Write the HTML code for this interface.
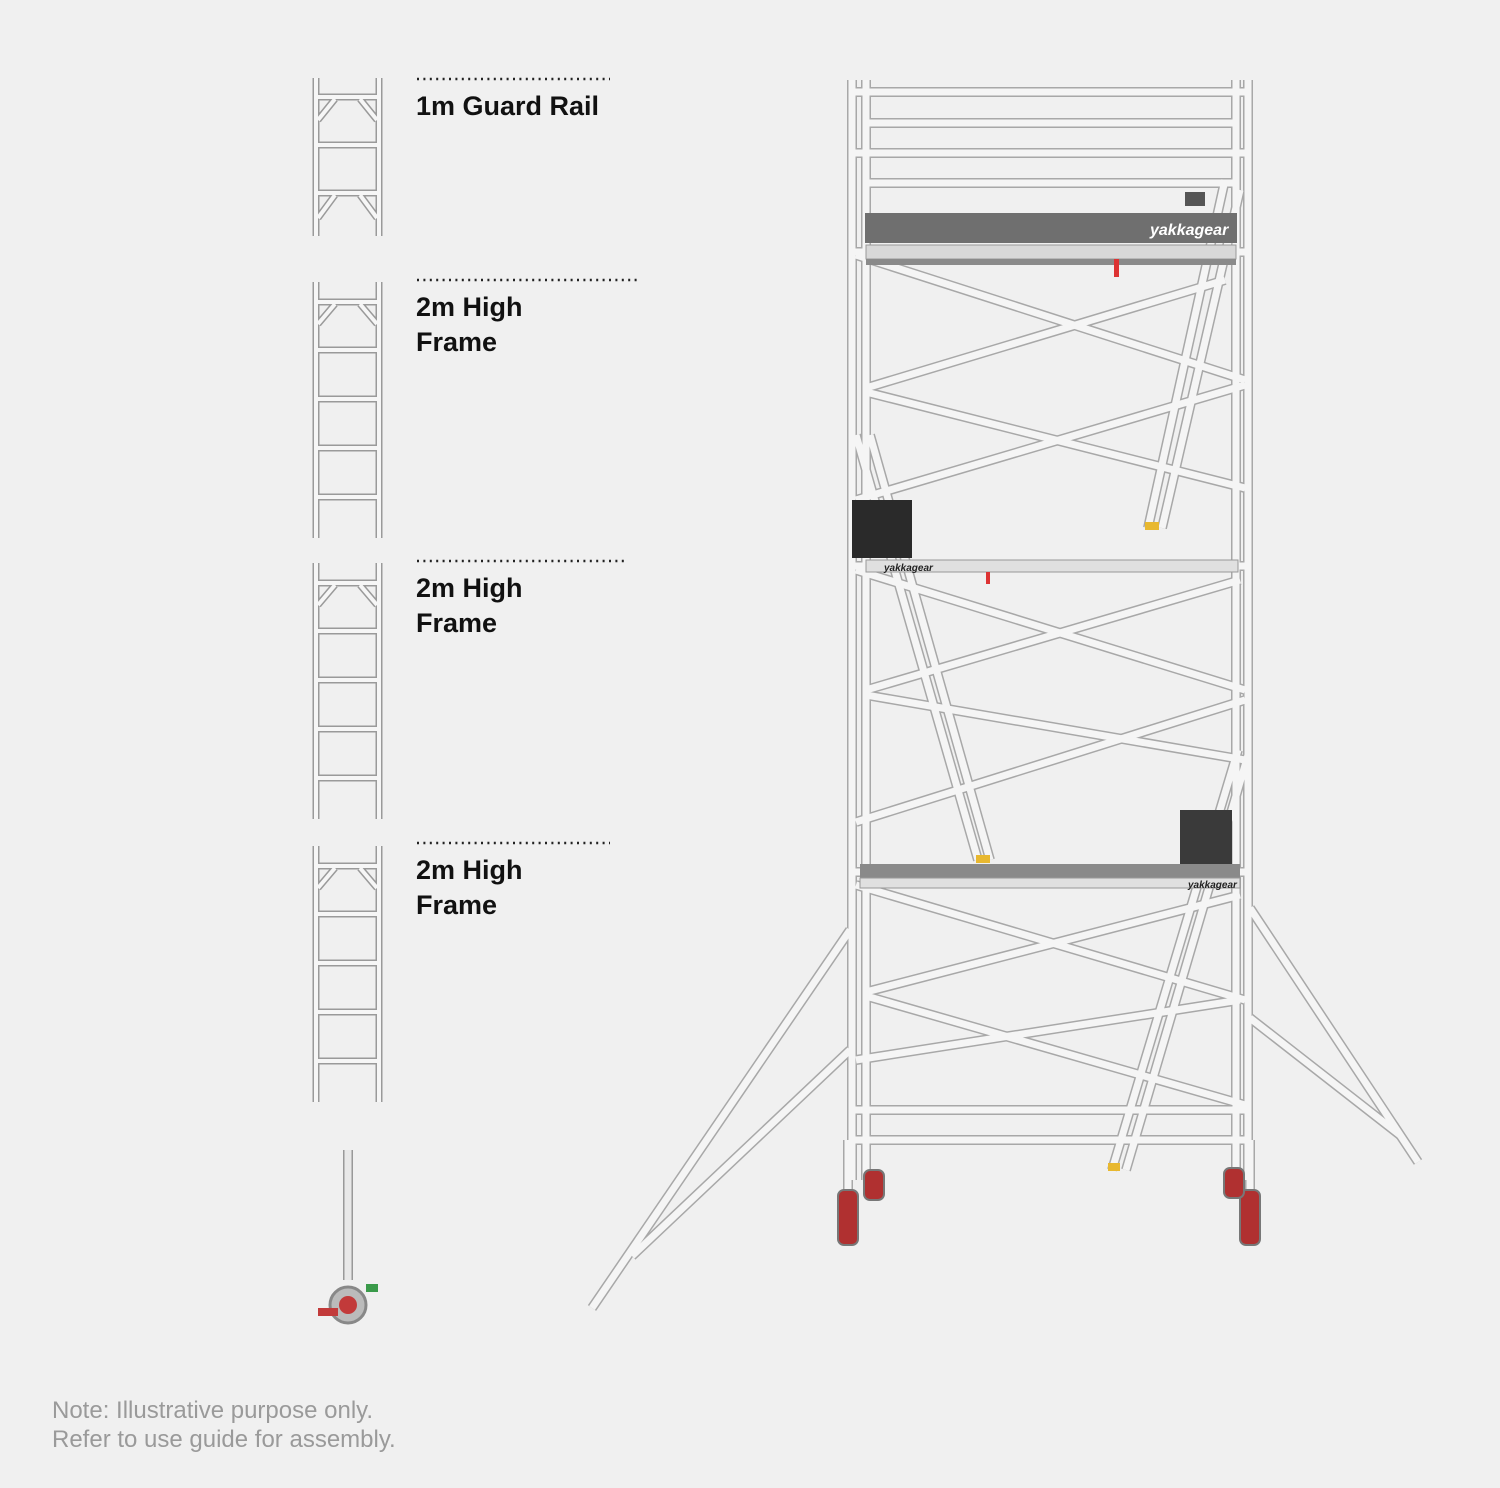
<!DOCTYPE html>
<html><head><meta charset="utf-8"><style>
html,body{margin:0;padding:0;background:#f0f0f0;}
svg{display:block}
.lbl{font-family:"Liberation Sans",sans-serif;font-weight:bold;font-size:27px;fill:#111}
.note{font-family:"Liberation Sans",sans-serif;font-size:24px;fill:#9a9a9a}
</style></head><body>
<svg width="1500" height="1488" viewBox="0 0 1500 1488" xmlns="http://www.w3.org/2000/svg">
<rect width="1500" height="1488" fill="#f0f0f0"/>
<defs>
<g id="f1" fill="none">
 <line x1="316" y1="78" x2="316" y2="236"/><line x1="379" y1="78" x2="379" y2="236"/>
 <line x1="316" y1="97" x2="379" y2="97"/><line x1="316" y1="145" x2="379" y2="145"/><line x1="316" y1="193" x2="379" y2="193"/>
 <line x1="318" y1="120" x2="335" y2="99"/><line x1="377" y1="120" x2="360" y2="99"/>
 <line x1="318" y1="218" x2="335" y2="195"/><line x1="377" y1="218" x2="360" y2="195"/>
</g>
<g id="f2" fill="none">
 <line x1="316" y1="0" x2="316" y2="256"/><line x1="379" y1="0" x2="379" y2="256"/>
 <line x1="316" y1="20" x2="379" y2="20"/><line x1="316" y1="68" x2="379" y2="68"/><line x1="316" y1="117" x2="379" y2="117"/>
 <line x1="316" y1="166" x2="379" y2="166"/><line x1="316" y1="215" x2="379" y2="215"/>
 <line x1="318" y1="42" x2="335" y2="22"/><line x1="377" y1="42" x2="360" y2="22"/>
</g>
<g id="sc" fill="none">
 <line x1="852" y1="80" x2="852" y2="1180"/><line x1="866" y1="80" x2="866" y2="1180"/>
 <line x1="1236" y1="80" x2="1236" y2="1180"/><line x1="1248" y1="80" x2="1248" y2="1180"/>
 <line x1="852" y1="92" x2="1248" y2="92"/><line x1="866" y1="123" x2="1236" y2="123"/>
 <line x1="852" y1="153" x2="1248" y2="153"/><line x1="866" y1="183" x2="1236" y2="183"/>
 <line x1="852" y1="252" x2="1248" y2="252"/><line x1="852" y1="566" x2="1248" y2="566"/>
 <line x1="852" y1="872" x2="1248" y2="872"/><line x1="852" y1="1110" x2="1248" y2="1110"/>
 <line x1="852" y1="1140" x2="1248" y2="1140"/>
 <line x1="856" y1="255" x2="1245" y2="380"/><line x1="866" y1="388" x2="1225" y2="280"/>
 <line x1="866" y1="392" x2="1245" y2="488"/><line x1="856" y1="500" x2="1245" y2="385"/>
 <line x1="856" y1="570" x2="1245" y2="690"/><line x1="866" y1="690" x2="1240" y2="580"/>
 <line x1="866" y1="695" x2="1245" y2="760"/><line x1="856" y1="822" x2="1245" y2="700"/>
 <line x1="856" y1="885" x2="1245" y2="1000"/><line x1="866" y1="992" x2="1240" y2="895"/>
 <line x1="866" y1="996" x2="1245" y2="1105"/><line x1="856" y1="1060" x2="1240" y2="1000"/>
 <line x1="850" y1="930" x2="592" y2="1308"/><line x1="850" y1="1050" x2="632" y2="1256"/>
 <line x1="1250" y1="908" x2="1418" y2="1162"/><line x1="1250" y1="1018" x2="1400" y2="1135"/>
 <line x1="1225" y1="180" x2="1148" y2="528"/><line x1="1240" y1="190" x2="1162" y2="528"/>
 <line x1="856" y1="435" x2="978" y2="860"/><line x1="870" y1="435" x2="990" y2="860"/>
 <line x1="1238" y1="750" x2="1112" y2="1170"/><line x1="1248" y1="755" x2="1126" y2="1170"/>
 <line x1="848" y1="1140" x2="848" y2="1220"/><line x1="1250" y1="1140" x2="1250" y2="1220"/>
</g>
</defs>
<use href="#f1" stroke="#9a9a9a" stroke-width="7"/>
<use href="#f1" stroke="#f6f6f6" stroke-width="4"/>
<g transform="translate(0,282)"><use href="#f2" stroke="#9a9a9a" stroke-width="7"/><use href="#f2" stroke="#f6f6f6" stroke-width="4"/></g>
<g transform="translate(0,563)"><use href="#f2" stroke="#9a9a9a" stroke-width="7"/><use href="#f2" stroke="#f6f6f6" stroke-width="4"/></g>
<g transform="translate(0,846)"><use href="#f2" stroke="#9a9a9a" stroke-width="7"/><use href="#f2" stroke="#f6f6f6" stroke-width="4"/></g>
<line x1="348" y1="1150" x2="348" y2="1280" stroke="#999" stroke-width="10"/>
<line x1="348" y1="1150" x2="348" y2="1280" stroke="#e8e8e8" stroke-width="7"/>
<circle cx="348" cy="1305" r="18" fill="#bbb" stroke="#888" stroke-width="3"/>
<circle cx="348" cy="1305" r="9" fill="#c23a3a"/>
<rect x="318" y="1308" width="20" height="8" fill="#c23a3a"/>
<rect x="366" y="1284" width="12" height="8" fill="#3a9a4a"/>
<g stroke="#222" stroke-width="2.4" stroke-dasharray="2 4.4">
<line x1="417" y1="79" x2="610" y2="79"/>
<line x1="417" y1="280" x2="638" y2="280"/>
<line x1="417" y1="561" x2="625" y2="561"/>
<line x1="417" y1="843" x2="610" y2="843"/>
</g>
<text class="lbl" x="416" y="115">1m Guard Rail</text>
<text class="lbl" x="416" y="316">2m High</text><text class="lbl" x="416" y="351">Frame</text>
<text class="lbl" x="416" y="597">2m High</text><text class="lbl" x="416" y="632">Frame</text>
<text class="lbl" x="416" y="879">2m High</text><text class="lbl" x="416" y="914">Frame</text>
<text class="note" x="52" y="1418">Note: Illustrative purpose only.</text>
<text class="note" x="52" y="1447">Refer to use guide for assembly.</text>
<use href="#sc" stroke="#a8a8a8" stroke-width="10"/>
<use href="#sc" stroke="#f5f5f5" stroke-width="7"/>
<rect x="865" y="213" width="372" height="30" fill="#6f6f6f"/>
<text x="1150" y="235" font-family="Liberation Sans,sans-serif" font-weight="bold" font-style="italic" font-size="16" fill="#fff">yakkagear</text>
<rect x="866" y="245" width="370" height="14" fill="#d8d8d8" stroke="#999"/>
<rect x="866" y="259" width="370" height="6" fill="#8a8a8a"/>
<rect x="1114" y="259" width="5" height="18" fill="#d33"/>
<rect x="1185" y="192" width="20" height="14" fill="#555"/>
<rect x="852" y="500" width="60" height="58" fill="#2a2a2a"/>
<rect x="866" y="560" width="372" height="12" fill="#e0e0e0" stroke="#999"/>
<text x="884" y="571" font-family="Liberation Sans,sans-serif" font-weight="bold" font-style="italic" font-size="10" fill="#222">yakkagear</text>
<rect x="986" y="572" width="4" height="12" fill="#d33"/>
<rect x="1180" y="810" width="52" height="55" fill="#3a3a3a"/>
<rect x="860" y="864" width="380" height="14" fill="#8a8a8a"/>
<rect x="860" y="878" width="380" height="10" fill="#e0e0e0" stroke="#999"/>
<text x="1188" y="888" font-family="Liberation Sans,sans-serif" font-weight="bold" font-style="italic" font-size="10" fill="#222">yakkagear</text>
<g fill="#b03030" stroke="#777" stroke-width="2">
<rect x="838" y="1190" width="20" height="55" rx="6"/>
<rect x="864" y="1170" width="20" height="30" rx="6"/>
<rect x="1240" y="1190" width="20" height="55" rx="6"/>
<rect x="1224" y="1168" width="20" height="30" rx="6"/>
</g>
<rect x="976" y="855" width="14" height="8" fill="#e8b830"/>
<rect x="1145" y="522" width="14" height="8" fill="#e8b830"/>
<rect x="1108" y="1163" width="12" height="8" fill="#e8b830"/>
</svg>
</body></html>
